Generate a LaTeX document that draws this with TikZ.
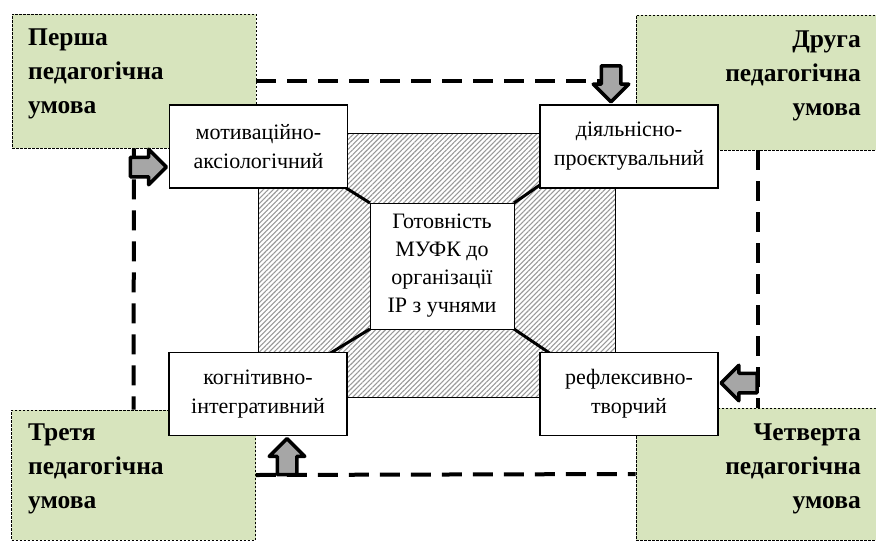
\documentclass[tikz,border=0pt]{standalone}
\usepackage{fontspec}
\setmainfont{Liberation Serif}
\usetikzlibrary{shapes.arrows,patterns.meta}
\definecolor{condgreen}{RGB}{215,228,189}
\begin{document}
\begin{tikzpicture}[x=1pt, y=-1pt,
  cond/.style={draw, dash pattern=on 2.5pt off 1.5pt, line width=0.9pt, fill=condgreen, minimum width=244pt, minimum height=134pt, inner sep=0},
  condtext/.style={font=\fontsize{25.5}{34}\selectfont\bfseries, inner sep=0},
  comp/.style={draw, line width=1.3pt, fill=white, minimum width=178pt, minimum height=83pt, align=center, font=\fontsize{22}{29}\selectfont},
  link/.style={line width=4pt, dash pattern=on 20pt off 11pt},
  push/.style={single arrow, draw, line width=3.5pt, line join=round, fill=black!35, inner sep=8pt, minimum height=36pt, single arrow head extend=8pt}]
\useasboundingbox (0,0) rectangle (876,542);
\node[cond] (c1) at (134,81) {};
\node[cond, minimum height=135pt] (c2) at (758,82.5) {};
\node[cond, minimum height=130pt] (c3) at (133.5,475) {};
\node[cond, minimum height=132pt] (c4) at (758,474) {};
\node[condtext, anchor=base west, align=left] (t1) at (28,113) {Перша\\педагогічна\\умова};
\node[condtext, anchor=base east, align=right] (t2) at (861,115) {Друга\\педагогічна\\умова};
\node[condtext, anchor=base west, align=left] (t3) at (28,508) {Третя\\педагогічна\\умова};
\node[condtext, anchor=base east, align=right] (t4) at (861,508) {Четверта\\педагогічна\\умова};
\node[draw, line width=1pt, pattern={Lines[angle=45, distance=3.5pt, line width=1.1pt]}, pattern color=black!40, minimum width=357pt, minimum height=264pt] (frame) at (436.5,265) {};
\draw[line width=3pt] (frame.north west) -- (442-72,266-63);
\draw[line width=3pt] (frame.north east) -- (442+72,266-63);
\draw[line width=3pt] (frame.south west) -- (442-72,266+63);
\draw[line width=3pt] (frame.south east) -- (442+72,266+63);
\node[comp, minimum width=144pt, minimum height=126pt, line width=1pt, font=\fontsize{22}{28}\selectfont] (core) at (442,266) {Готовність\\МУФК до\\організації\\ІР з учнями};
\node[comp] (m1) at (258.5,146.5) {мотиваційно-\\аксіологічний};
\node[comp] (m2) at (629,146.5) {діяльнісно-\\проєктувальний};
\node[comp] (m3) at (258,394) {когнітивно-\\інтегративний};
\node[comp] (m4) at (629,394) {рефлексивно-\\творчий};
\coordinate (j2) at (611,81);
\draw[link] (c1.east) -- (j2);
\draw[link] (c1.south) -- (c3.north);
\draw[link] (c2.south) -- (c4.north);
\draw[link] (c3.east) -- (c4.west);
\node[push, anchor=tip] (a1) at (m1.west |- 0,167) {};
\node[push, rotate=-90, anchor=tip] (a2) at (j2 |- m2.north) {};
\node[push, rotate=90, anchor=tip] (a3) at (m3.south -| 287,0) {};
\node[push, rotate=180, anchor=tip] (a4) at (m4.east |- 0,383) {};
\end{tikzpicture}
\end{document}
